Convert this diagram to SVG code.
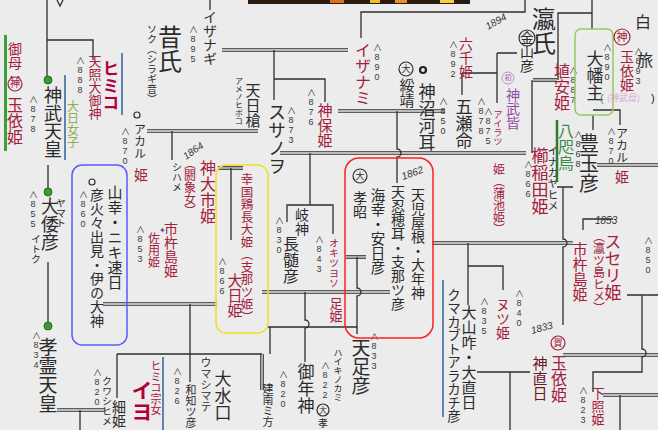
<svg xmlns="http://www.w3.org/2000/svg" xmlns:xlink="http://www.w3.org/1999/xlink" width="658" height="430" viewBox="0 0 658 430">
<style>
.v{writing-mode:vertical-rl;font-family:"Noto Sans CJK JP","Noto Sans CJK SC",sans-serif}
.k{fill:#2b2b2b}
.r{fill:#a3203c}
.cr{fill:#b0003c;font-weight:bold}
.p{fill:#9a4aa8}
.g{fill:#8ab04a}
.gg{fill:#3a8a4a}
.n{fill:#3a3a3a;font-size:9px;text-orientation:upright;font-family:"Liberation Sans","Noto Sans CJK JP",sans-serif}
.h{font-family:"Liberation Sans",sans-serif;fill:#333;font-size:10px;font-style:italic}
.l{fill:none;stroke:#2e2e2e;stroke-width:1.3}
.dd{fill:none;stroke:#2e2e2e;stroke-width:3.6}
.di{fill:none;stroke:#ececec;stroke-width:1.3}
.bl{stroke:#3a6aa0;stroke-width:1.6}
.dot{fill:#3a9a3a;stroke:#1e6e1e;stroke-width:1}
.ring{fill:none;stroke:#2e2e2e;stroke-width:1.2}
.rring{fill:none;stroke:#a3203c;stroke-width:1.2}
</style>
<defs>
<path id="d1" d="M57,410 H105"/>
<path id="d2" d="M147,131 H258"/>
<path id="d3" d="M222,50 H348"/>
<path id="d4" d="M280,153 H526"/>
<path id="d5" d="M338,111 H445"/>
<path id="d6" d="M346,257 H366"/>
<path id="d7" d="M262,292 H390"/>
<path id="d8" d="M103,304 H217"/>
<path id="d9" d="M218,168 H243"/>
<path id="d10" d="M432,243 H573"/>
<path id="d11" d="M563,355 H658"/>
<path id="d12" d="M603,395 H658"/>
<path id="d13" d="M533,80 H557"/>
<path id="d14" d="M597,165 H658"/>
<path id="d15" d="M262,354 V390"/>
</defs>
<rect width="658" height="430" fill="#ececec"/>
<!-- top colour strip -->
<rect x="248" y="0" width="222" height="4" fill="#2a1a10"/>
<rect x="330" y="0" width="14" height="3" fill="#e07020"/>
<rect x="370" y="0" width="10" height="3" fill="#f0c020"/>
<rect x="395" y="0" width="12" height="3" fill="#e89030"/>
<rect x="440" y="0" width="14" height="3" fill="#f0d040"/>

<g id="connectors">
<use href="#d1" class="dd"/><use href="#d1" class="di"/>
<use href="#d2" class="dd"/><use href="#d2" class="di"/>
<use href="#d3" class="dd"/><use href="#d3" class="di"/>
<use href="#d4" class="dd"/><use href="#d4" class="di"/>
<use href="#d5" class="dd"/><use href="#d5" class="di"/>
<use href="#d6" class="dd"/><use href="#d6" class="di"/>
<use href="#d7" class="dd"/><use href="#d7" class="di"/>
<use href="#d8" class="dd"/><use href="#d8" class="di"/>
<use href="#d9" class="dd"/><use href="#d9" class="di"/>
<use href="#d10" class="dd"/><use href="#d10" class="di"/>
<use href="#d11" class="dd"/><use href="#d11" class="di"/>
<use href="#d12" class="dd"/><use href="#d12" class="di"/>
<use href="#d13" class="dd"/><use href="#d13" class="di"/>
<use href="#d14" class="dd"/><use href="#d14" class="di"/>
<use href="#d15" class="dd"/><use href="#d15" class="di"/>
<path class="l" d="M47,0 V78 M47,40 H93 V60 M57,0 L60,6 L63,0"/>
<path class="l" d="M48,165 V188 M48,262 V322 M80,410 V430"/>
<path class="l" d="M172,131 V160 M210,0 V10"/>
<path class="l" d="M274,50 V100 M274,79 H325 V102"/>
<path class="l" d="M361,38 V12 H525 V0"/>
<path class="l" d="M310,153 V205 M287,222 V205 H333 V234"/>
<path class="l" d="M397,111 V149 a4,4 0 0 1 0,8 V183"/>
<path class="l" d="M357,257 V288 a4,4 0 0 1 0,8 V334"/>
<path class="l" d="M305,292 V320 a4,4 0 0 1 0,8 V362"/>
<path class="l" d="M268,327 H357 M270,327 V354"/>
<path class="l" d="M117,354 H262 M117,354 V398"/>
<path class="l" d="M190,304 V382 M231,168 V240"/>
<path class="l" d="M557,187 H573 M563,187 V239 a4,4 0 0 1 0,8 V325"/>
<path class="l" d="M468,243 V305 M468,266 H503 V290"/>
<path class="l" d="M627,295 H658 M642,295 V349 a4,4 0 0 1 0,8 V372 H593 V392"/>
<path class="l" d="M620,395 V430 M477,372 H530 M510,372 V430"/>
<path class="l" d="M497,53 H517 M497,53 V103 M462,73 H497 M462,73 V95"/>
<path class="l" d="M532,80 V153 M558,80 V13 H592 V0 M592,13 V29"/>
<path class="l" d="M593,110 H620 V125 M593,115 V130 M583,230 V219 H613"/>
</g>

<!-- left column -->
<g id="mother">
<rect x="4" y="35" width="3" height="116" fill="#3aa03a"/>
<text class="v r" x="15" y="42" font-size="14">御母：</text>
<circle class="rring" cx="15" cy="84" r="7"/>
<text class="v r" x="15" y="78" font-size="10">神</text>
<text class="v r" x="15" y="97" font-size="16">玉依姫</text>
</g>
<g id="jimmu">
<circle class="dot" cx="48" cy="80" r="4"/>
<text class="v k" x="53" y="86" font-size="18">神武天皇</text>
<text class="v n" x="33" y="95">∧878</text>
</g>
<g id="amaterasu">
<text class="v r" x="95" y="55" font-size="13">天照大御神</text>
<text class="v n" x="80" y="56">∧888</text>
</g>
<g id="himiko">
<text class="v cr" x="111" y="60" font-size="17">ヒミコ</text>
<line class="bl" x1="122" y1="53" x2="122" y2="115"/>
</g>
<g id="ohirume">
<line class="bl" x1="65" y1="75" x2="65" y2="160"/>
<text class="v g" x="73" y="100" font-size="12">大日女子</text>
</g>
<g id="yamato">
<circle class="dot" cx="48" cy="192" r="4"/>
<text class="v k" x="50" y="197" font-size="18">大倭彦</text>
<text class="v k" x="61" y="198" font-size="10">ヤマト</text>
<text class="v k" x="36" y="234" font-size="10">イトク</text>
<text class="v n" x="33" y="190">∧855</text>
</g>
<g id="korei">
<circle class="dot" cx="48" cy="326" r="4"/>
<text class="v k" x="48" y="337" font-size="19">孝霊天皇</text>
<text class="v n" x="36" y="331">∧834</text>
</g>
<g id="hohodemi">
<rect x="72" y="165" width="55" height="180" rx="10" fill="none" stroke="#5a5aff" stroke-width="1.5"/>
<circle class="ring" cx="92" cy="182" r="3" stroke-width="2"/>
<text class="v n" x="83" y="190">∧860</text>
<text class="v k" x="97" y="188" font-size="14">彦火々出見・伊の大神</text>
<text class="v k" x="115" y="185" font-size="15">山幸・ニキ速日</text>
</g>
<g id="akaru-l">
<circle class="ring" cx="137" cy="115" r="3" stroke-width="2"/>
<text class="v k" x="140" y="123" font-size="12">アカル</text>
<text class="v r" x="141" y="168" font-size="14">姫</text>
<text class="v n" x="125" y="127">∧870</text>
</g>
<g id="mukashi">
<text class="v k" x="170" y="25" font-size="24">昔氏</text>
<text class="v k" x="152" y="24" font-size="10">ソク（シラギ音）</text>
<text class="v n" x="193" y="25">∧895</text>
</g>
<g id="izanagi">
<text class="v k" x="210" y="10" font-size="14">イザナギ</text>
</g>
<g id="izanami">
<text class="v r" x="363" y="42" font-size="16">イザナミ</text>
<text class="v n" x="377" y="43">∧890</text>
</g>
<g id="susanoo">
<text class="v k" x="277" y="103" font-size="18">スサノヲ</text>
<text class="v n" x="291" y="106">∧873</text>
</g>
<g id="kamuho">
<text class="v r" x="325" y="103" font-size="15">神保姫</text>
<text class="v n" x="311" y="88">∧876</text>
</g>
<g id="amenohiboko">
<text class="v k" x="253" y="83" font-size="15">天日槍</text>
<text class="v k" x="239" y="77" font-size="8">アメノヒボコ</text>
</g>
<g id="kamuoichi">
<text class="v r" x="208" y="160" font-size="16">神大市姫</text>
<text class="h" x="186" y="160" transform="rotate(-35 186 160)">1864</text>
<text class="v r" x="190" y="157" font-size="12">（閼象女）</text>
<text class="v k" x="177" y="162" font-size="10">シハメ</text>
</g>
<g id="ichikishima-l">
<text class="v r" x="171" y="222" font-size="14">市杵島姫</text>
<text class="v r" x="154" y="232" font-size="12">佐用姫</text>
<text x="159" y="233" font-size="8" fill="#6040a0" font-family="DejaVu Sans">✦</text>
<text class="v n" x="140" y="225">∧853</text>
</g>
<g id="ohirume2">
<rect x="216" y="165" width="52" height="168" rx="10" fill="none" stroke="#f0e020" stroke-width="1.5"/>
<text class="v r" x="247" y="173" font-size="12.5">幸国鶏長大姫（支那ツ姫）</text>
<text class="v r" x="235" y="273" font-size="15">大日姫</text>
<text class="v n" x="222" y="257">∧866</text>
</g>
<g id="kunado">
<text class="v k" x="302" y="208" font-size="14">岐神</text>
<text class="v k" x="291" y="236" font-size="16">長髄彦</text>
<text class="v n" x="279" y="216">∧830</text>
</g>
<g id="okitsuyoso">
<text class="v r" x="334" y="238" font-size="10">オキツヨソ</text>
<text class="v n" x="319" y="235">∧843</text>
</g>
<g id="tarashi">
<text class="v r" x="336" y="297" font-size="13">足姫</text>
</g>
<g id="ametari">
<text class="v k" x="361" y="338" font-size="19">天足彦</text>
<text class="v n" x="374" y="332">∧833</text>
</g>
<g id="kosho">
<rect x="345" y="158" width="88" height="180" rx="14" fill="none" stroke="#ff2020" stroke-width="1.5"/>
<circle class="ring" cx="360" cy="176" r="7"/>
<text class="v k" x="360" y="171" font-size="9">大</text>
<text class="v k" x="360" y="191" font-size="14">孝昭</text>
<text class="v k" x="378" y="188" font-size="14.5">海幸・安日彦</text>
<text class="v k" x="398" y="185" font-size="14">天忍穂耳・支那ツ彦</text>
<text class="v k" x="418" y="188" font-size="14">天児屋根・大年神</text>
<text class="h" x="403" y="180" transform="rotate(-20 403 180)">1862</text>
</g>
<!-- middle top -->
<g id="suizei">
<circle class="ring" cx="406" cy="69" r="7"/>
<text class="v k" x="406" y="64" font-size="9">大</text>
<text class="v k" x="407" y="78" font-size="15">綏靖</text>
</g>
<g id="kamununakawa">
<circle cx="423" cy="70" r="3" fill="none" stroke="#222" stroke-width="2.2"/>
<text class="v k" x="427" y="83" font-size="17">神沼河耳</text>
<text class="v n" x="443" y="97">∧850</text>
</g>
<g id="rokusen">
<text class="v r" x="466" y="37" font-size="14">六千姫</text>
<text class="v n" x="453" y="40">∧892</text>
</g>
<g id="itsuse">
<text class="v k" x="464" y="98" font-size="17">五瀬命</text>
<text class="v n" x="481" y="97">∧878</text>
</g>
<g id="airatsu">
<text class="v r" x="498" y="110" font-size="9">アイラツ</text>
<text class="v n" x="488" y="107">∧875</text>
</g>
<g id="jimmu-haha">
<circle cx="508" cy="78" r="6" fill="none" stroke="#c090c8" stroke-width="1"/>
<text class="v p" x="508" y="74" font-size="7">初</text>
<text class="v p" x="513" y="88" font-size="14">神武皆</text>
</g>
<g id="kanayama">
<circle class="ring" cx="527" cy="38" r="8"/>
<text class="v k" x="527" y="31" font-size="14">金山彦</text>
<text class="h" x="488" y="30" transform="rotate(-30 488 30)">1894</text>
</g>
<g id="ei">
<text class="v k" x="544" y="7" font-size="24">瀛氏</text>
</g>
<g id="kama">
<text class="v r" x="499" y="163" font-size="12">姫（蒲池姫）</text>
</g>
<g id="kushinada">
<text class="v r" x="540" y="147" font-size="17">櫛稲田姫</text>
<text class="v n" x="528" y="160">∧866</text>
<text class="v k" x="553" y="145" font-size="11">イナカヤヒメ</text>
</g>
<g id="yatagarasu">
<line x1="557" y1="120" x2="557" y2="182" stroke="#2a7a3a" stroke-width="2.5"/>
<text class="v gg" x="566" y="123" font-size="16">八咫烏</text>
</g>
<g id="toyotama">
<text class="v k" x="589" y="133" font-size="20">豊玉彦</text>
<text class="v n" x="578" y="130">∧868</text>
</g>
<g id="haniyasu">
<text class="v r" x="562" y="63" font-size="16">埴安姫</text>
<text class="v n" x="573" y="66">∧887</text>
</g>
<g id="ohata">
<rect x="575" y="29" width="38" height="86" rx="6" fill="none" stroke="#98c868" stroke-width="1.5"/>
<text class="v k" x="595" y="50" font-size="17">大幡主</text>
<text class="v n" x="607" y="43">∧890</text>
</g>
<g id="tamayori-kami">
<circle class="rring" cx="622" cy="37" r="8"/>
<text class="v r" x="622" y="31" font-size="11">神</text>
<text class="v r" x="627" y="50" font-size="14">玉依姫</text>
<text class="v n" x="638" y="47">∧893</text>
<text x="600" y="102" font-size="11" fill="#3a9a3a" font-family="Liberation Sans,sans-serif">(</text>
<text x="607" y="101" font-size="9" fill="#d8a8d0" font-family="Noto Sans CJK JP,sans-serif">(神武母)</text>
<text x="651" y="102" font-size="11" fill="#222" font-family="Liberation Sans,sans-serif">)</text>
</g>
<g id="haku">
<text class="v k" x="643" y="14" font-size="16">白</text>
<text class="v k" x="645" y="52" font-size="16">旅</text>
</g>
<g id="akaru-r">
<text class="v k" x="622" y="127" font-size="12">アカル</text>
<text class="v r" x="622" y="170" font-size="14">姫</text>
<text class="v n" x="611" y="127">∧870</text>
</g>
<!-- lower right -->
<g id="suseri">
<text class="v r" x="613" y="233" font-size="17">スセリ姫</text>
<text class="v r" x="599" y="230" font-size="12">（瀛ツ島ヒメ）</text>
<text class="v r" x="580" y="242" font-size="15">市杵島姫</text>
<text class="h" x="595" y="224">1853</text>
<text class="v n" x="648" y="236">∧850</text>
</g>
<g id="kumakabuto">
<line class="bl" x1="443" y1="280" x2="443" y2="417"/>
<text class="v k" x="454" y="288" font-size="13.5">クマカブトアラカチ彦</text>
</g>
<g id="oyamakui">
<text class="v k" x="469" y="305" font-size="15">大山咋・大直日</text>
<text class="v n" x="484" y="297">∧835</text>
</g>
<g id="nutsu">
<text class="v r" x="503" y="298" font-size="14">ヌツ姫</text>
<text class="v n" x="519" y="289">∧840</text>
</g>
<g id="tamayori-kamo">
<text class="h" x="532" y="334" transform="rotate(-15 532 334)">1833</text>
<circle class="rring" cx="558" cy="343" r="7"/>
<text class="v r" x="558" y="338" font-size="9">賀</text>
<text class="v r" x="559" y="355" font-size="16">玉依姫</text>
<text class="v r" x="540" y="356" font-size="15" style="fill:#6a1828">神直日</text>
</g>
<g id="shitateru">
<text class="v r" x="598" y="387" font-size="13">下照姫</text>
<text class="v n" x="583" y="386">∧823</text>
</g>
<!-- bottom -->
<g id="iyo">
<line class="bl" x1="163" y1="357" x2="163" y2="430"/>
<text class="v r" x="156" y="360" font-size="11">ヒミコ宗女</text>
<text class="v cr" x="142" y="380" font-size="21">イヨ</text>
</g>
<g id="kuwashi">
<text class="v k" x="119" y="400" font-size="14">細姫</text>
<text class="v k" x="107" y="376" font-size="10">クワシヒメ</text>
<text class="v n" x="97" y="368">∧820</text>
</g>
<g id="wachitsu">
<text class="v k" x="191" y="384" font-size="11">和知ツ彦</text>
<text class="v n" x="177" y="367">∧826</text>
</g>
<g id="omizuguchi">
<text class="v k" x="206" y="357" font-size="11">ウマシマテ</text>
<text class="v k" x="223" y="370" font-size="17">大水口</text>
</g>
<g id="takeminakata">
<text class="v k" x="268" y="383" font-size="11">建南ミ方</text>
<text class="v n" x="283" y="370">∧820</text>
</g>
<g id="mitoshi">
<text class="v k" x="306" y="363" font-size="17">御年神</text>
<text class="v k" x="338" y="348" font-size="9">ハイキノカミ</text>
<text class="v n" x="325" y="361">∧822</text>
<circle class="ring" cx="323" cy="410" r="6"/>
<text class="v k" x="323" y="406" font-size="8">大</text>
<text class="v k" x="323" y="418" font-size="10">孝</text>
</g>
</svg>
